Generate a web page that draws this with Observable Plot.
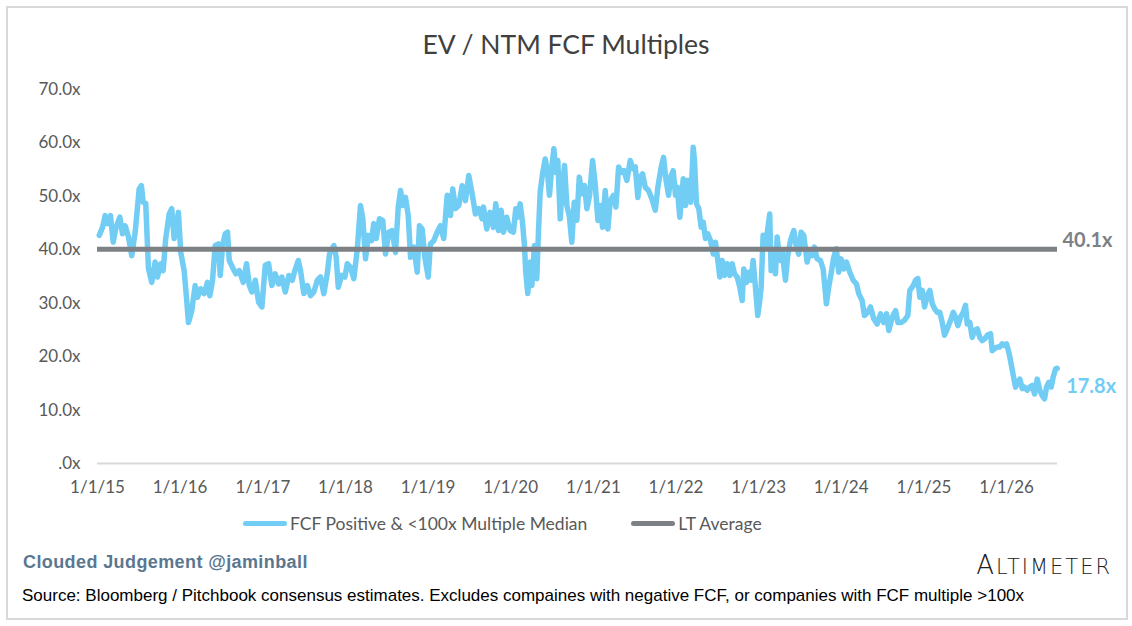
<!DOCTYPE html>
<html>
<head>
<meta charset="utf-8">
<script src="https://cdn.jsdelivr.net/npm/d3@7"></script>
<script src="https://cdn.jsdelivr.net/npm/@observablehq/plot@0.6"></script>
<style>
  html, body { margin: 0; padding: 0; background: #fff; }
  #wrap { position: relative; width: 1132px; height: 626px; overflow: hidden; background: #fff; font-family: Lato, "Open Sans", sans-serif; }
  #frame { position: absolute; left: 6px; top: 6px; width: 1118px; height: 610px; border: 2px solid #d9d9d9; }
  #chart { position: absolute; left: 0; top: 0; }
  #title { position: absolute; left: 0; width: 1132px; top: 28px; text-align: center; font-size: 26.5px; color: #404040; }
  #legend { position: absolute; left: 243px; top: 513px; display: flex; align-items: center; font-size: 17.5px; color: #595959; }
  .sw { display: inline-block; width: 44px; height: 5px; border-radius: 3px; margin-right: 3px; }
  #brand { position: absolute; left: 23px; top: 552px; font-family: "Liberation Sans", Arial, sans-serif; font-weight: bold; font-size: 18px; letter-spacing: 0.4px; color: #5b7790; }
  #alt { position: absolute; right: 20px; top: 550px; font-family: "DejaVu Sans", sans-serif; font-weight: 300; font-size: 21px; letter-spacing: 2px; color: #222; }
  #source { position: absolute; left: 22px; top: 586px; font-family: "Liberation Sans", Arial, sans-serif; font-size: 17px; color: #000; }
</style>
</head>
<body>
<div id="wrap">
  <div id="frame"></div>
  <div id="chart"></div>
  <div id="title">EV / NTM FCF Multiples</div>
  <div id="legend"></div>
  <div id="brand">Clouded Judgement @jaminball</div>
  <div id="alt"><span style="font-size:26px">A</span>LTIMETER</div>
  <div id="source">Source: Bloomberg / Pitchbook consensus estimates. Excludes compaines with negative FCF, or companies with FCF multiple &gt;100x</div>
</div>
<script>
// ---- data (decimal years, multiples) ----
const seriesName = "FCF Positive & <100x Multiple Median";
const avgName = "LT Average";
const ltAverage = 40.1;
const lastValueLabel = "17.8x";
const yTicks = [0, 10, 20, 30, 40, 50, 60, 70];
const xTicks = ["2015-01-01","2016-01-01","2017-01-01","2018-01-01","2019-01-01","2020-01-01","2021-01-01","2022-01-01","2023-01-01","2024-01-01","2025-01-01","2026-01-01"];
const xDomainEnd = 2026.617;

const years = [
2015.021,2015.061,2015.093,2015.121,2015.157,2015.190,2015.221,2015.270,2015.303,2015.335,2015.375,2015.415,2015.456,2015.505,2015.532,2015.553,2015.584,2015.605,2015.617,2015.657,2015.698,2015.726,2015.766,2015.795,2015.826,2015.868,2015.899,2015.928,2015.980,
2016.008,2016.049,2016.077,2016.101,2016.141,2016.182,2016.210,2016.250,2016.291,2016.331,2016.359,2016.392,2016.424,2016.464,2016.485,2016.513,2016.545,2016.573,2016.594,2016.634,2016.674,2016.715,2016.763,2016.803,2016.836,2016.867,2016.908,2016.948,2016.988,
2017.029,2017.069,2017.109,2017.150,2017.190,2017.230,2017.271,2017.315,2017.356,2017.387,2017.429,2017.456,2017.496,2017.538,2017.577,2017.617,2017.659,2017.698,2017.738,2017.779,2017.807,2017.859,2017.888,2017.913,2017.953,2017.993,
2018.022,2018.061,2018.101,2018.142,2018.182,2018.210,2018.243,2018.276,2018.316,2018.343,2018.372,2018.412,2018.452,2018.485,2018.525,2018.566,2018.606,2018.639,2018.667,2018.694,2018.727,2018.760,2018.788,2018.828,2018.869,2018.896,2018.929,2018.961,
2019.002,2019.029,2019.069,2019.111,2019.150,2019.190,2019.232,2019.272,2019.299,2019.332,2019.372,2019.413,2019.453,2019.493,2019.534,2019.574,2019.614,2019.655,2019.671,2019.711,2019.752,2019.792,2019.820,2019.852,2019.885,2019.913,2019.953,2019.994,
2020.034,2020.062,2020.086,2020.115,2020.143,2020.167,2020.183,2020.207,2020.236,2020.256,2020.288,2020.316,2020.336,2020.357,2020.385,2020.418,2020.445,2020.469,2020.497,2020.522,2020.546,2020.570,2020.599,2020.618,2020.651,2020.679,2020.708,2020.739,2020.768,2020.800,2020.829,2020.860,2020.893,2020.921,2020.954,2020.990,
2021.023,2021.054,2021.083,2021.111,2021.143,2021.175,2021.204,2021.244,2021.272,2021.305,2021.337,2021.369,2021.405,2021.446,2021.474,2021.507,2021.538,2021.567,2021.595,2021.628,2021.668,2021.708,2021.749,2021.780,2021.821,2021.849,2021.877,2021.910,2021.934,2021.966,2021.994,
2022.015,2022.046,2022.088,2022.115,2022.143,2022.176,2022.196,2022.208,2022.224,2022.248,2022.276,2022.305,2022.329,2022.357,2022.385,2022.418,2022.451,2022.478,2022.506,2022.530,2022.559,2022.587,2022.620,2022.651,2022.680,2022.708,2022.741,2022.772,2022.801,2022.821,2022.853,2022.881,2022.910,2022.934,2022.962,2022.990,
2023.014,2023.031,2023.055,2023.083,2023.111,2023.135,2023.152,2023.176,2023.204,2023.225,2023.256,2023.285,2023.325,2023.353,2023.386,2023.426,2023.458,2023.486,2023.515,2023.547,2023.588,2023.619,2023.648,2023.676,2023.709,2023.749,2023.782,2023.821,2023.849,2023.878,2023.910,2023.942,2023.970,2023.999,
2024.031,2024.064,2024.104,2024.145,2024.185,2024.212,2024.253,2024.281,2024.321,2024.354,2024.394,2024.435,2024.475,2024.515,2024.548,2024.575,2024.617,2024.657,2024.685,2024.725,2024.765,2024.805,2024.829,2024.871,2024.898,2024.926,2024.950,2024.979,
2025.007,2025.040,2025.071,2025.100,2025.128,2025.161,2025.192,2025.221,2025.249,2025.282,2025.322,2025.355,2025.382,2025.410,2025.443,2025.475,2025.503,2025.524,2025.555,2025.584,2025.612,2025.645,2025.676,2025.705,2025.733,2025.766,2025.806,2025.826,2025.854,2025.887,2025.918,2025.947,2025.975,
2026.000,2026.028,2026.048,2026.081,2026.109,2026.137,2026.161,2026.190,2026.218,2026.250,2026.282,2026.311,2026.339,2026.372,2026.403,2026.432,2026.460,2026.484,2026.512,2026.541,2026.565,2026.593,2026.613
];
const values = [
42.7,44.2,46.4,44.9,46.4,41.4,44.0,46.1,43.0,44.5,42.4,38.9,43.3,51.4,52.0,48.9,48.7,40.8,36.5,33.9,37.7,34.9,37.4,36.1,42.1,46.7,47.7,42.1,47.0,
39.5,36.1,31.1,26.4,28.6,33.3,31.1,32.7,31.8,33.9,31.4,34.3,40.8,41.1,35.2,40.8,43.0,43.3,38.0,36.7,35.5,36.1,33.9,37.4,33.3,32.1,34.3,30.2,29.3,
37.1,37.4,33.3,35.5,33.6,34.9,32.1,35.2,34.3,36.1,38.0,36.1,31.8,33.3,31.4,32.1,34.3,34.9,31.8,35.5,39.2,40.8,38.6,33.0,35.2,34.9,
37.4,36.7,34.6,39.9,48.3,45.8,38.3,42.7,41.7,44.9,42.1,45.8,45.5,39.2,43.3,43.6,39.5,48.0,51.1,48.3,49.8,46.4,38.6,40.5,35.8,44.5,43.9,38.6,
34.9,41.1,41.7,43.3,44.5,42.1,50.2,46.4,51.4,47.7,48.3,52.0,49.2,53.9,50.5,46.7,47.7,45.8,48.0,43.9,47.0,44.2,48.6,43.6,47.4,43.3,46.1,43.6,
43.3,47.7,46.1,48.6,45.2,40.8,35.8,31.8,37.7,33.3,40.8,34.6,43.3,50.8,54.2,57.0,54.5,50.2,55.5,58.9,54.5,56.7,45.8,50.2,55.8,48.3,46.4,41.4,48.9,45.5,53.6,50.5,52.0,47.7,50.2,56.7,
52.0,45.5,48.3,44.2,51.1,43.9,49.2,50.2,48.0,55.5,54.5,54.8,53.0,56.7,55.2,55.5,49.8,53.6,54.2,51.7,51.1,49.5,47.4,51.7,55.5,57.3,53.3,50.2,53.6,54.8,50.2,
51.7,46.1,53.3,48.3,53.0,48.9,54.8,59.2,56.7,48.6,47.7,44.2,45.2,42.1,43.0,41.7,39.2,41.4,38.0,34.9,38.0,35.2,37.4,35.2,37.4,35.5,34.9,33.0,30.5,36.4,33.9,35.8,34.3,38.0,33.0,27.7,
30.5,33.0,42.7,40.5,43.9,46.7,36.1,39.2,35.5,42.4,38.0,39.9,34.3,38.9,41.7,43.6,40.5,39.2,43.3,42.7,37.7,39.9,38.9,40.5,38.3,38.0,36.4,29.9,33.0,35.5,38.6,40.2,35.8,38.3,
36.4,37.7,35.8,34.3,33.6,31.8,30.5,27.7,28.3,29.3,27.1,26.1,28.0,26.4,28.0,24.9,27.4,28.6,26.4,26.4,26.8,27.7,32.4,33.3,34.3,34.6,31.1,32.4,
29.3,31.4,32.4,29.9,29.0,28.3,28.3,26.4,24.0,25.2,26.8,28.3,27.4,25.8,27.4,28.3,29.6,26.1,26.4,23.6,24.9,25.2,23.6,23.0,23.3,24.0,24.3,21.1,21.5,21.8,21.8,22.4,22.1,
22.4,20.8,19.3,16.5,14.3,15.2,15.8,14.0,14.3,13.7,14.3,14.6,13.0,15.8,13.7,12.7,12.1,14.3,15.2,14.3,16.2,17.7,17.8
];

// ---- helpers ----
function decToDate(t) {
  const y = Math.floor(t);
  const s = Date.UTC(y, 0, 1), e = Date.UTC(y + 1, 0, 1);
  return new Date(s + (t - y) * (e - s));
}
const data = years.map((t, i) => ({date: decToDate(t), value: values[i]}));
const tickDates = xTicks.map(s => new Date(s + "T00:00:00Z"));
const endDate = decToDate(xDomainEnd);
const last = data[data.length - 1];

const blue = "#72cdf4";
const gray = "#7d8085";

const chart = Plot.plot({
  width: 1132,
  height: 510,
  marginLeft: 97,
  marginRight: 75,
  marginTop: 89,
  marginBottom: 47,
  style: {fontFamily: "Lato, 'Open Sans', sans-serif", fontSize: "17px", color: "#595959", background: "transparent", overflow: "visible"},
  x: {type: "utc", domain: [tickDates[0], endDate], ticks: tickDates, tickSize: 0, tickPadding: 17,
      tickFormat: d => `${d.getUTCMonth() + 1}/${d.getUTCDate()}/${String(d.getUTCFullYear()).slice(2)}`, label: null},
  y: {domain: [0, 70], ticks: yTicks, tickSize: 0, tickPadding: 17,
      tickFormat: d => d === 0 ? ".0x" : d.toFixed(1) + "x", label: null},
  marks: [
    Plot.ruleY([0], {stroke: "#d9d9d9", strokeWidth: 2}),
    Plot.line(data, {x: "date", y: "value", stroke: blue, strokeWidth: 5.5, strokeLinejoin: "round", strokeLinecap: "round"}),
    Plot.ruleY([ltAverage], {stroke: gray, strokeWidth: 5}),
    Plot.text([ltAverage], {x: () => endDate, y: d => d, text: d => d.toFixed(1) + "x", dx: 5, dy: -9, textAnchor: "start",
      fill: gray, fontWeight: "bold", fontSize: 20}),
    Plot.text([last], {x: "date", y: "value", text: () => lastValueLabel, dx: 9, dy: 18, textAnchor: "start",
      fill: blue, fontWeight: "bold", fontSize: 20})
  ]
});
document.getElementById("chart").appendChild(chart);

const legend = document.getElementById("legend");
[[seriesName, blue], [avgName, gray]].forEach(([name, color], i) => {
  const item = document.createElement("span");
  item.style.display = "inline-flex";
  item.style.alignItems = "center";
  item.style.marginRight = i === 0 ? "44px" : "0";
  const sw = document.createElement("span");
  sw.className = "sw";
  sw.style.background = color;
  const tx = document.createElement("span");
  tx.textContent = name;
  item.appendChild(sw); item.appendChild(tx);
  legend.appendChild(item);
});
</script>
</body>
</html>
